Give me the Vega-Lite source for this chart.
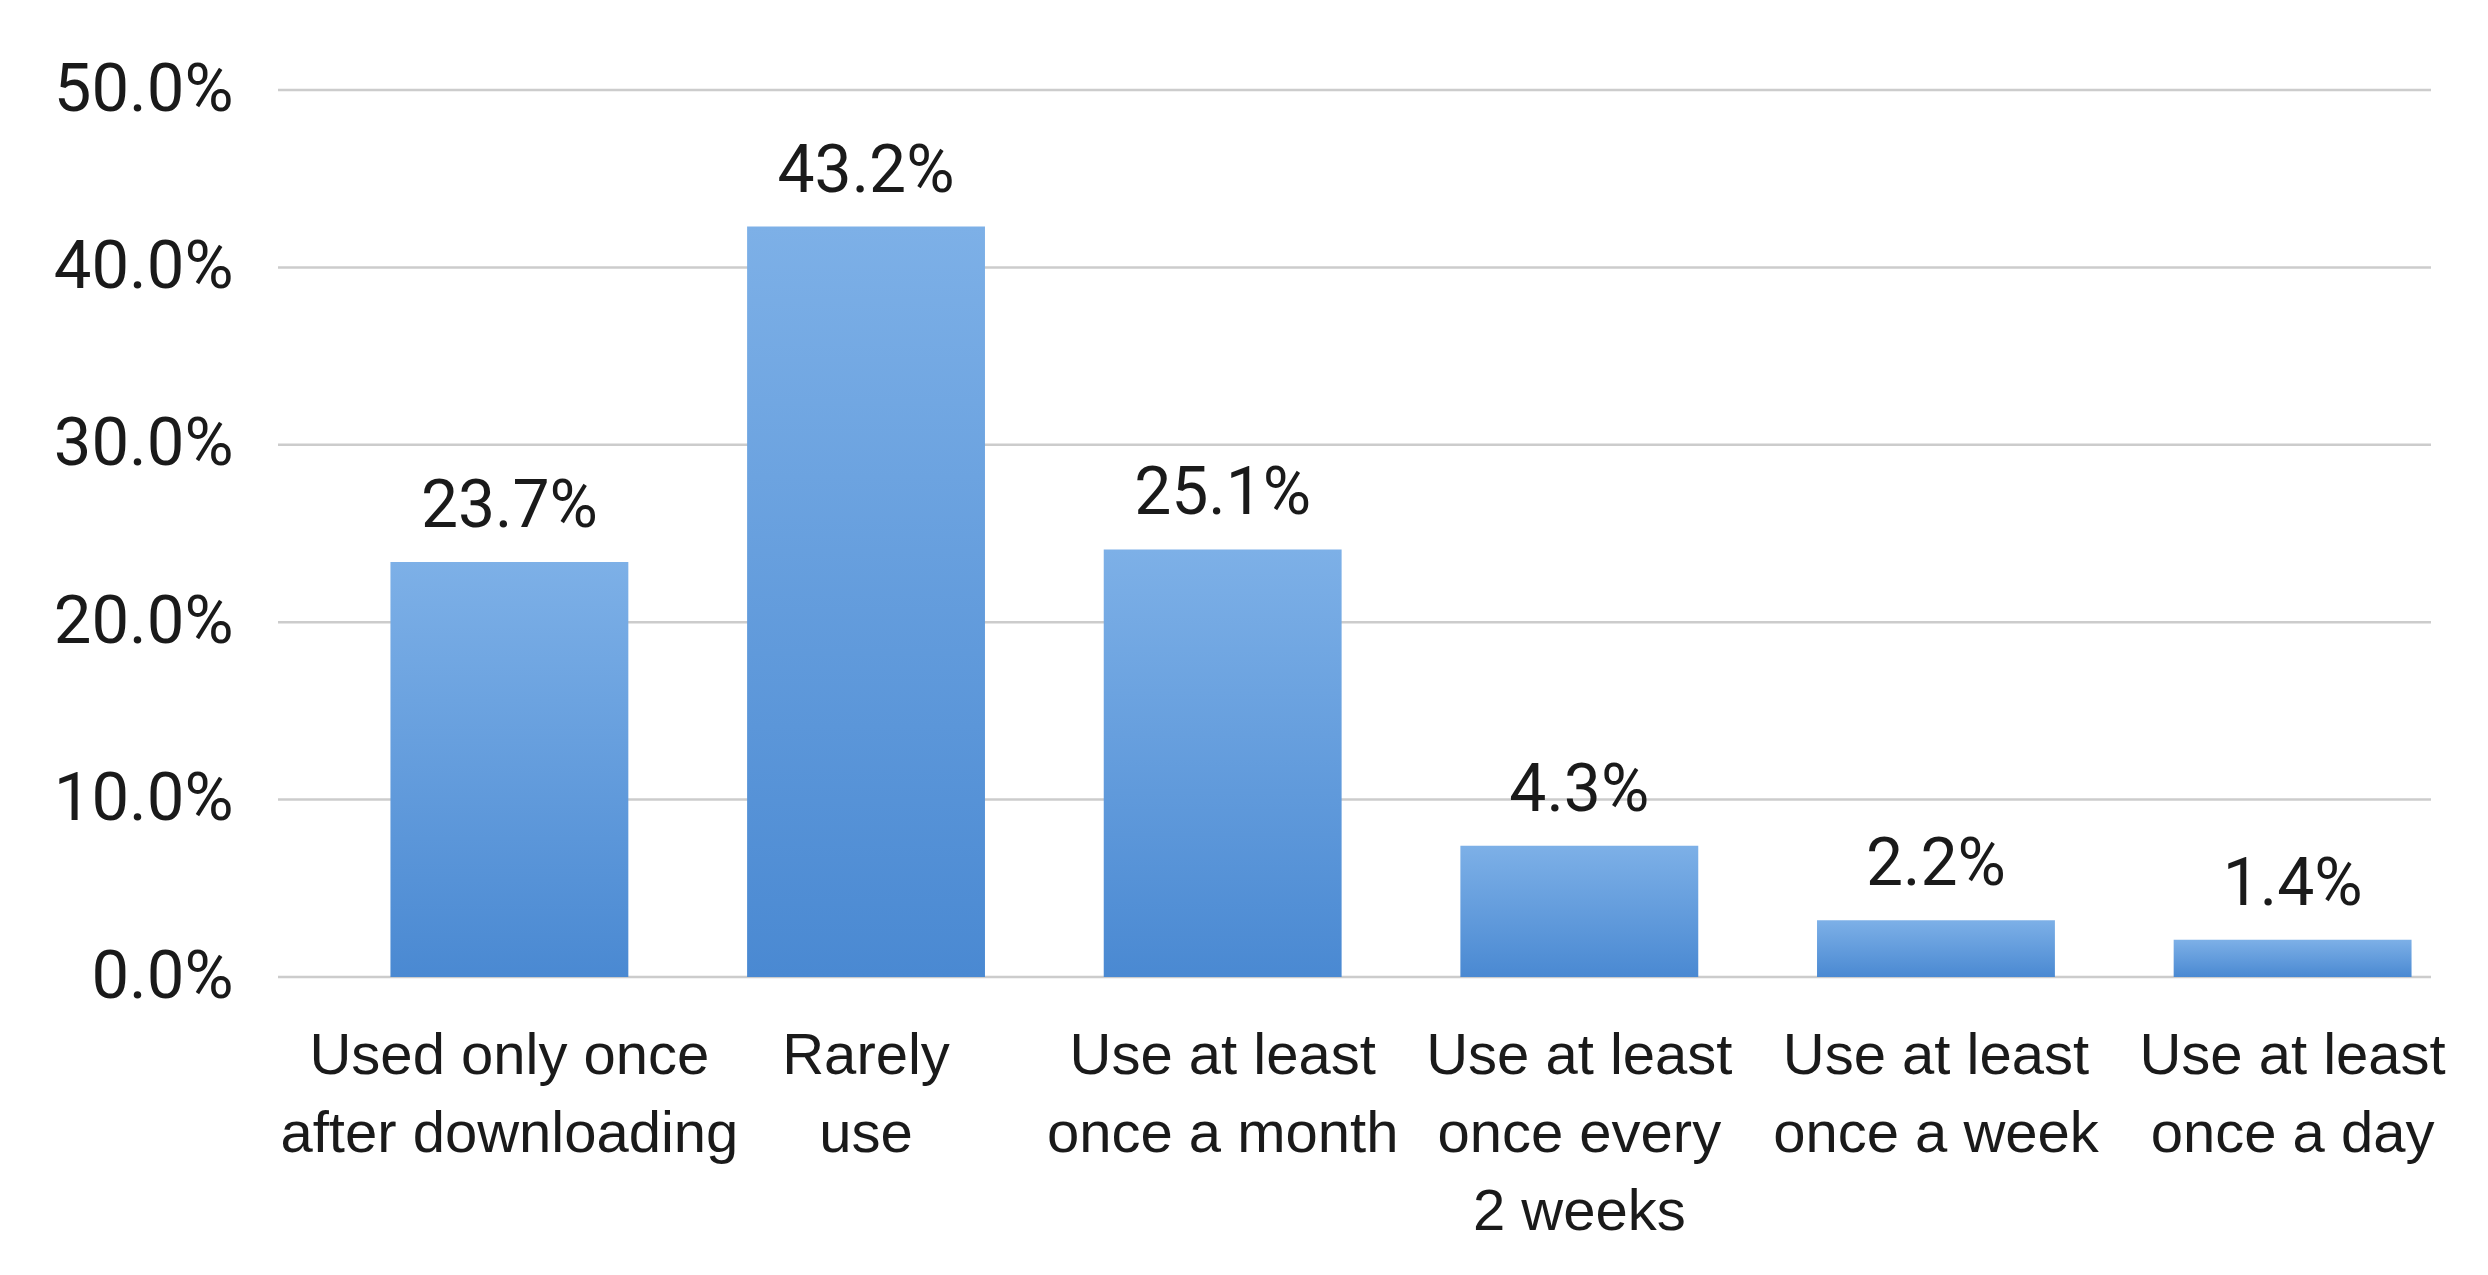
{
  "$schema": "https://vega.github.io/schema/vega-lite/v6.json",
  "width": 2153,
  "height": 887,
  "autosize": {"type": "none"},
  "padding": {"left": 278, "top": 90, "right": 57, "bottom": 298},
  "background": "white",
  "datasets": {
    "bars": [
      {"category": "Used only once\nafter downloading", "share": 23.4, "label": "23.7%"},
      {"category": "Rarely\nuse", "share": 42.3, "label": "43.2%"},
      {"category": "Use at least\nonce a month", "share": 24.1, "label": "25.1%"},
      {"category": "Use at least\nonce every\n2 weeks", "share": 7.4, "label": "4.3%"},
      {"category": "Use at least\nonce a week", "share": 3.2, "label": "2.2%"},
      {"category": "Use at least\nonce a day", "share": 2.1, "label": "1.4%"}
    ],
    "gridlines": [
      {"level": 0}, {"level": 10}, {"level": 20}, {"level": 30}, {"level": 40}, {"level": 50}
    ]
  },
  "layer": [
    {
      "data": {"name": "gridlines"},
      "mark": {"type": "rule", "color": "#cccccc", "strokeWidth": 2.5},
      "encoding": {
        "y": {
          "field": "level",
          "type": "quantitative",
          "scale": {"domain": [0, 50], "nice": false},
          "axis": {
            "title": null,
            "domain": false,
            "ticks": false,
            "grid": false,
            "values": [0, 10, 20, 30, 40, 50],
            "labelExpr": "format(datum.value, '.1f') + '%'",
            "labelFont": "Roboto",
            "labelFontSize": 67,
            "labelColor": "#1a1a1a",
            "labelPadding": 45
          }
        }
      }
    },
    {
      "data": {"name": "bars"},
      "encoding": {
        "x": {
          "field": "category",
          "type": "nominal",
          "sort": null,
          "scale": {"range": [53, 2193], "paddingInner": 0.333, "paddingOuter": 0.1667},
          "axis": {
            "title": null,
            "domain": false,
            "ticks": false,
            "grid": false,
            "labelAngle": 0,
            "labelExpr": "split(datum.label, '\\n')",
            "labelFont": "Liberation Sans",
            "labelFontSize": 58,
            "labelLineHeight": 78,
            "labelColor": "#1a1a1a",
            "labelBaseline": "top",
            "labelPadding": 50,
            "labelLimit": 0,
            "labelOverlap": false
          }
        },
        "y": {"field": "share", "type": "quantitative"}
      },
      "layer": [
        {
          "mark": {
            "type": "bar",
            "color": {
              "gradient": "linear",
              "x1": 0, "y1": 0, "x2": 0, "y2": 1,
              "stops": [
                {"offset": 0, "color": "#7DB0E7"},
                {"offset": 1, "color": "#4A89D2"}
              ]
            }
          }
        },
        {
          "mark": {
            "type": "text",
            "baseline": "alphabetic",
            "dy": -35,
            "font": "Roboto",
            "fontSize": 66,
            "color": "#1a1a1a"
          },
          "encoding": {"text": {"field": "label"}}
        }
      ]
    }
  ],
  "config": {"view": {"stroke": null}}
}
